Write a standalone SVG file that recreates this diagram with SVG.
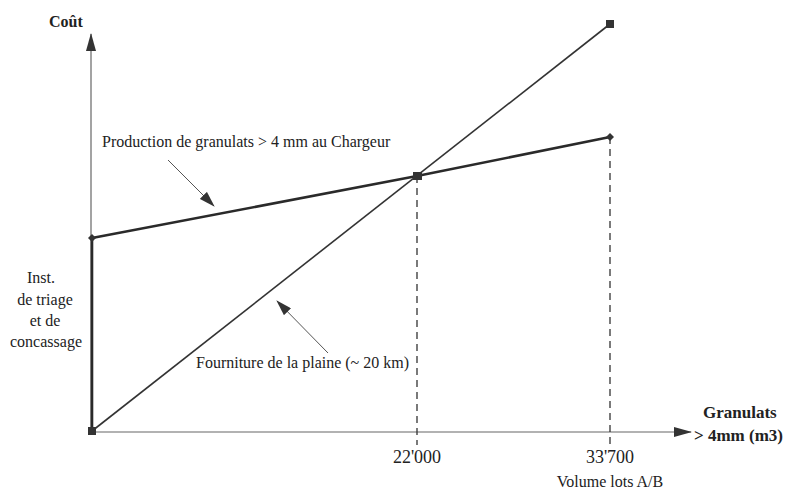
<svg xmlns="http://www.w3.org/2000/svg" width="793" height="493" viewBox="0 0 793 493">
<style>
text{font-family:"Liberation Serif","Times New Roman",serif;fill:#222}
.b{font-weight:bold}
.axis{stroke:#666;stroke-width:1.2;fill:none}
.dash{stroke:#333;stroke-width:1.3;stroke-dasharray:7,5;fill:none}
.thin{stroke:#555;stroke-width:1;fill:none}
.mk{fill:#333}
</style>
<defs>
<marker id="ah" markerWidth="18" markerHeight="10" refX="17" refY="5" orient="auto" markerUnits="userSpaceOnUse">
<path d="M0,0 L18,5 L0,10 Z" fill="#333"/>
</marker>
<marker id="ap" markerWidth="16" markerHeight="10" refX="15" refY="5" orient="auto" markerUnits="userSpaceOnUse">
<path d="M0,0 L16,5 L0,10 Z" fill="#333"/>
</marker>
</defs>
<rect width="793" height="493" fill="#fff"/>
<g id="axes">
<line class="axis" x1="91" y1="432" x2="91" y2="34" marker-end="url(#ah)"/>
<line class="axis" x1="91" y1="432" x2="691" y2="432" marker-end="url(#ah)"/>
<text class="b" x="49" y="27" font-size="16">Coût</text>
<text class="b" x="703" y="418" font-size="17">Granulats</text>
<text class="b" x="694" y="441" font-size="17">&gt; 4mm (m3)</text>
</g>
<g id="connectors">
<line class="dash" x1="417" y1="176" x2="417" y2="445"/>
<line class="dash" x1="610" y1="137" x2="610" y2="445"/>
<line x1="92" y1="431" x2="610" y2="24" stroke="#333" stroke-width="1.6"/>
<polyline points="92,238 417,176 610,137" stroke="#2a2a2a" stroke-width="2.6" fill="none"/>
<line x1="92" y1="238" x2="92" y2="431" stroke="#2a2a2a" stroke-width="2.6"/>
<line class="thin" x1="168" y1="160" x2="214" y2="206" marker-end="url(#ap)"/>
<line class="thin" x1="328" y1="353" x2="277" y2="301" marker-end="url(#ap)"/>
</g>
<g id="markers">
<rect class="mk" x="88" y="427" width="8" height="8"/>
<rect class="mk" x="413" y="172" width="9" height="8"/>
<rect class="mk" x="606" y="20" width="8" height="8"/>
<path class="mk" d="M92,234 L96,238 L92,242 L88,238 Z"/>
<path class="mk" d="M610,133 L614,137 L610,141 L606,137 Z"/>
</g>
<g id="labels">
<text x="102" y="147" font-size="16">Production de granulats &gt; 4 mm au Chargeur</text>
<text x="196" y="368" font-size="16">Fourniture de la plaine (~ 20 km)</text>
<g font-size="16" text-anchor="middle">
<text x="41" y="283">Inst.</text>
<text x="45" y="305">de triage</text>
<text x="45" y="326">et de</text>
<text x="46" y="347">concassage</text>
</g>
<text x="417" y="463" font-size="18" text-anchor="middle">22'000</text>
<text x="610" y="463" font-size="18" text-anchor="middle">33'700</text>
<text x="610" y="487" font-size="16" text-anchor="middle">Volume lots A/B</text>
</g>
</svg>
